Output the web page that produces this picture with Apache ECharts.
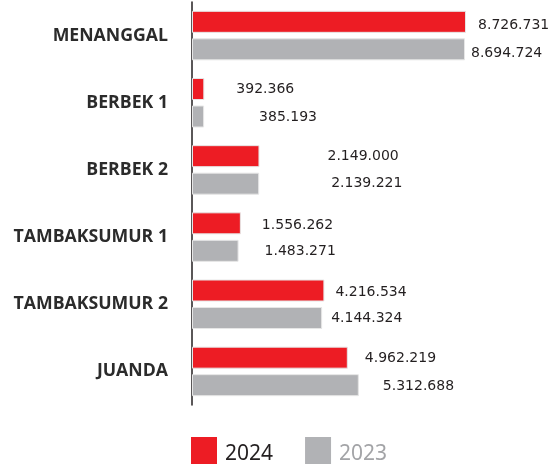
<!DOCTYPE html>
<html>
<head>
<meta charset="utf-8">
<script src="https://cdn.jsdelivr.net/npm/echarts@6/dist/echarts.min.js"></script>
<style>
  html, body { margin: 0; padding: 0; background: #fff; }
  #main { width: 554px; height: 464px; }
</style>
</head>
<body>
<div id="main"></div>
<script>
var categories = ["MENANGGAL", "BERBEK 1", "BERBEK 2", "TAMBAKSUMUR 1", "TAMBAKSUMUR 2", "JUANDA"];
var values2024 = [8726731, 392366, 2149000, 1556262, 4216534, 4962219];
var values2023 = [8694724, 385193, 2139221, 1483271, 4144324, 5312688];
var seriesNames = ["2024", "2023"];

// label nudges so the numbers sit where the original has them
var shift2024 = [[12, 4], [32, 0], [68, 0], [21, 2], [11, 2], [17, 1]];
var shift2023 = [[6, 4], [55, 1], [72, 0], [26, 1], [9, 0], [24, 1]];

function fmt(v) {
  return String(v).replace(/\B(?=(\d{3})+(?!\d))/g, ".");
}

function buildData(values, shifts) {
  return values.map(function (v, i) {
    return { value: v, label: { offset: shifts[i] } };
  });
}

var labelStyle = {
  show: true,
  position: "right",
  distance: 0,
  fontFamily: "DejaVu Sans",
  fontSize: 14,
  color: "#231f20",
  formatter: function (p) { return fmt(p.value); }
};

var myChart = echarts.init(document.getElementById("main"));
var option = {
  animation: false,
  grid: { left: 192, width: 314, top: 2, height: 403 },
  legend: {
    left: 191,
    top: 437,
    padding: 0,
    itemWidth: 26,
    itemHeight: 34,
    itemGap: 32,
    icon: "rect",
    itemStyle: { borderWidth: 0 },
    textStyle: { fontFamily: "Noto Sans", fontSize: 21, padding: [0, 0, 0, 3] },
    data: [
      { name: seriesNames[0], textStyle: { color: "#231f20" } },
      { name: seriesNames[1], textStyle: { color: "#a3a4a7" } }
    ]
  },
  xAxis: {
    type: "value",
    min: 0,
    max: 10000000,
    show: false
  },
  yAxis: {
    type: "category",
    inverse: true,
    data: categories,
    axisLine: { lineStyle: { color: "#231f20", width: 1.5 } },
    axisTick: { show: false },
    axisLabel: {
      margin: 24,
      padding: [8, 0, 0, 0],
      fontFamily: "Open Sans",
      fontWeight: "bold",
      fontSize: 17.7,
      color: "#2b2b2b"
    }
  },
  series: [
    {
      name: seriesNames[0],
      type: "bar",
      barWidth: 22,
      barGap: "25%",
      itemStyle: { color: "#ed1c24", borderColor: "#e6e6e6", borderWidth: 1 },
      label: labelStyle,
      data: buildData(values2024, shift2024)
    },
    {
      name: seriesNames[1],
      type: "bar",
      barWidth: 22,
      barGap: "25%",
      itemStyle: { color: "#b1b2b5", borderColor: "#e6e6e6", borderWidth: 1 },
      label: labelStyle,
      data: buildData(values2023, shift2023)
    }
  ]
};
myChart.setOption(option);
</script>
</body>
</html>
